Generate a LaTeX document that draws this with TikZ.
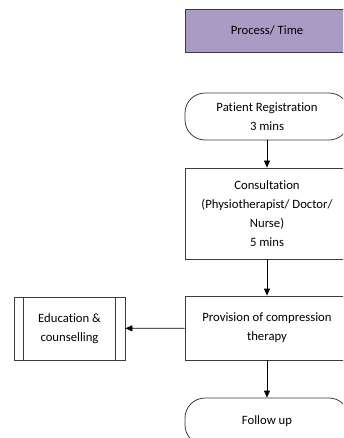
\documentclass[tikz,border=0pt]{standalone}
\usepackage{fontspec}
\setmainfont[Ligatures=NoCommon]{Carlito}
\usetikzlibrary{arrows.meta}
\definecolor{lav}{RGB}{170,155,196}
\definecolor{edge}{RGB}{60,60,60}
\tikzset{
  box/.style={draw=edge, line width=0.8pt, minimum width=164pt, align=center, inner sep=0pt,
    font=\fontsize{12.7}{19}\selectfont},
  term/.style={box, rounded corners=20pt},
  arr/.style={draw=black, line width=0.8pt, -{Triangle[length=7pt,width=6pt]}}
}
\begin{document}
\begin{tikzpicture}[x=1pt,y=-1pt]
\useasboundingbox (0,0) rectangle (343,438);
\clip (0,0) rectangle (343,438);
\node[box, fill=lav, minimum height=43pt] (proc) at (267,30.5) {Process/ Time};
\node[term, minimum height=47pt] (reg) at (267,116.5) {Patient Registration\\3 mins};
\node[box, minimum height=91pt] (cons) at (267,213.5) {Consultation\\(Physiotherapist/ Doctor/\\Nurse)\\5 mins};
\node[box, minimum height=64pt] (prov) at (267,328) {Provision of compression\\therapy};
\node[box, minimum width=111pt, minimum height=63pt] (edu) at (69.5,328.5) {Education \&\\counselling};
\node[term, minimum height=47pt] (fol) at (267,421.5) {Follow up};
\draw[draw=edge, line width=0.8pt] ([xshift=10pt]edu.north west) -- ([xshift=10pt]edu.south west);
\draw[draw=edge, line width=0.8pt] ([xshift=-10pt]edu.north east) -- ([xshift=-10pt]edu.south east);
\draw[arr] (reg) -- (cons);
\draw[arr] (cons) -- (prov);
\draw[arr] (prov) -- (edu);
\draw[arr] (prov) -- (fol);
\end{tikzpicture}
\end{document}
